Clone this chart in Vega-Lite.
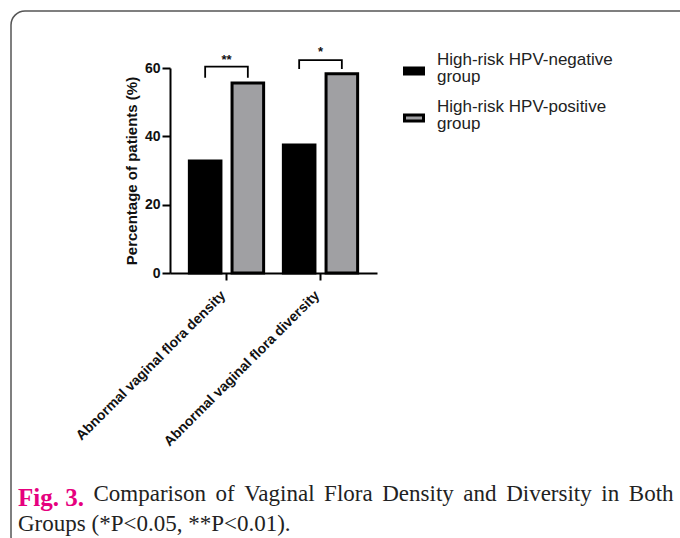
{
  "$schema": "https://vega.github.io/schema/vega-lite/v6.json",
  "width": 690,
  "height": 540,
  "autosize": {"type": "none"},
  "padding": {"left": 11, "top": 11, "right": 0, "bottom": 0},
  "background": "white",
  "title": {
    "text": "Fig. 3.",
    "subtitle": "Groups (*P<0.05, **P<0.01).",
    "orient": "bottom",
    "anchor": "start",
    "frame": "group",
    "offset": -65,
    "dx": 7,
    "font": "Liberation Serif",
    "fontSize": 25,
    "fontWeight": "bold",
    "color": "#e6007e",
    "subtitleFont": "Liberation Serif",
    "subtitleFontSize": 23,
    "subtitleFontWeight": "normal",
    "subtitleColor": "#222222",
    "subtitlePadding": 2
  },
  "config": {
    "view": {"stroke": "#555555", "strokeWidth": 1.5, "cornerRadius": 14, "fill": "white"},
    "axis": {"grid": false, "domainColor": "black", "domainWidth": 2, "tickColor": "black", "tickWidth": 2},
    "style": {"guide-label": {"lineHeight": 17}}
  },
  "datasets": {
    "bars": [
      {"category": "Abnormal vaginal flora density", "group": "High-risk HPV-negative group", "pct": 32.8},
      {"category": "Abnormal vaginal flora density", "group": "High-risk HPV-positive group", "pct": 55.6},
      {"category": "Abnormal vaginal flora diversity", "group": "High-risk HPV-negative group", "pct": 37.5},
      {"category": "Abnormal vaginal flora diversity", "group": "High-risk HPV-positive group", "pct": 58.3}
    ],
    "brackets": [
      {"category": "Abnormal vaginal flora density", "group": "High-risk HPV-negative group", "v": 57.4, "ord": 1},
      {"category": "Abnormal vaginal flora density", "group": "High-risk HPV-negative group", "v": 60.4, "ord": 2},
      {"category": "Abnormal vaginal flora density", "group": "High-risk HPV-positive group", "v": 60.4, "ord": 3},
      {"category": "Abnormal vaginal flora density", "group": "High-risk HPV-positive group", "v": 57.4, "ord": 4},
      {"category": "Abnormal vaginal flora diversity", "group": "High-risk HPV-negative group", "v": 60.0, "ord": 1},
      {"category": "Abnormal vaginal flora diversity", "group": "High-risk HPV-negative group", "v": 62.3, "ord": 2},
      {"category": "Abnormal vaginal flora diversity", "group": "High-risk HPV-positive group", "v": 62.3, "ord": 3},
      {"category": "Abnormal vaginal flora diversity", "group": "High-risk HPV-positive group", "v": 60.0, "ord": 4}
    ],
    "stars": [
      {"category": "Abnormal vaginal flora density", "label": "**", "v": 61.3},
      {"category": "Abnormal vaginal flora diversity", "label": "*", "v": 63.5}
    ]
  },
  "layer": [
    {
      "data": {"name": "bars"},
      "mark": {"type": "bar", "stroke": "black", "strokeWidth": 3},
      "encoding": {
        "x": {
          "field": "category", "type": "nominal", "sort": null,
          "scale": {"range": [159, 366], "paddingInner": 0.21, "paddingOuter": 0.206},
          "axis": {
            "title": "Comparison \u2006of \u2006Vaginal \u2006Flora \u2006Density \u2006and \u2006Diversity \u2006in \u2006Both",
            "offset": -278,
            "labelAngle": -45,
            "labelFont": "Liberation Sans",
            "labelFontWeight": "bold",
            "labelFontSize": 14,
            "labelColor": "#111111",
            "labelLimit": 300,
            "tickSize": 7,
            "labelPadding": 8,
            "labelOffset": -8,
            "titleX": 82,
            "titleY": 227,
            "titleAlign": "left",
            "titleBaseline": "alphabetic",
            "titleFont": "Liberation Serif",
            "titleFontSize": 23,
            "titleFontWeight": "normal",
            "titleColor": "#222222"
          }
        },
        "xOffset": {"field": "group", "type": "nominal", "sort": null, "scale": {"paddingInner": 0.26, "paddingOuter": 0}},
        "y": {
          "field": "pct", "type": "quantitative",
          "scale": {"domain": [0, 60], "nice": false, "range": [262, 57]},
          "axis": {
            "title": "Percentage of patients (%)",
            "offset": -159,
            "values": [0, 20, 40, 60],
            "labelFont": "Liberation Sans",
            "labelFontWeight": "bold",
            "labelFontSize": 14,
            "labelColor": "#111111",
            "tickSize": 8,
            "labelPadding": 2,
            "titleFont": "Liberation Sans",
            "titleFontSize": 15,
            "titleFontWeight": "bold",
            "titleColor": "#111111",
            "titlePadding": 5
          }
        },
        "color": {
          "field": "group", "type": "nominal", "sort": null,
          "scale": {"range": ["black", "#a0a0a3"]},
          "legend": {
            "title": null,
            "orient": "none",
            "legendX": 392,
            "legendY": 38,
            "padding": 0,
            "symbolType": "M-1,0.84H1V1.48H-1Z",
            "symbolSize": 361,
            "symbolStrokeColor": "black",
            "symbolStrokeWidth": 3,
            "symbolOpacity": 1,
            "labelFont": "Liberation Sans",
            "labelFontSize": 17,
            "labelColor": "#222222",
            "labelOffset": 12,
            "labelLimit": 300,
            "rowPadding": 11,
            "labelExpr": "[replace(datum.label, ' group', ''), 'group']"
          }
        }
      }
    },
    {
      "data": {"name": "brackets"},
      "mark": {"type": "line", "color": "black", "strokeWidth": 1.8, "strokeJoin": "miter", "strokeCap": "square"},
      "encoding": {
        "x": {"field": "category", "type": "nominal", "sort": null},
        "xOffset": {"field": "group", "type": "nominal", "sort": null},
        "y": {"field": "v", "type": "quantitative"},
        "detail": {"field": "category"},
        "order": {"field": "ord", "type": "quantitative"}
      }
    },
    {
      "data": {"name": "stars"},
      "mark": {"type": "text", "font": "Liberation Sans", "fontWeight": "bold", "fontSize": 13, "baseline": "alphabetic", "color": "#111111"},
      "encoding": {
        "x": {"field": "category", "type": "nominal", "sort": null},
        "y": {"field": "v", "type": "quantitative"},
        "text": {"field": "label"}
      }
    }
  ]
}
